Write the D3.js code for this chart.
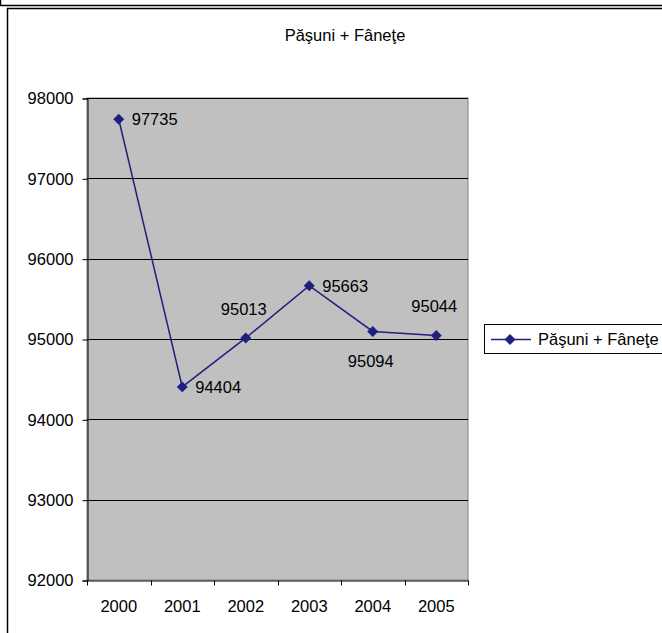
<!DOCTYPE html>
<html><head><meta charset="utf-8">
<script src="https://cdn.jsdelivr.net/npm/d3@7"></script>
<style>body{margin:0;background:#fff;} svg{display:block;font-family:"Liberation Sans",Arial,sans-serif;}</style>
</head><body>
<svg id="c" width="662" height="633"></svg>
<script>
const title = "Păşuni + Fâneţe";
const seriesName = "Păşuni + Fâneţe";
const years = ["2000","2001","2002","2003","2004","2005"];
const values = [97735, 94404, 95013, 95663, 95094, 95044];
const labelPos = ["right","right","above","right","below","above"];
const yTicks = [92000, 93000, 94000, 95000, 96000, 97000, 98000];

const svg = d3.select("#c");
svg.append("path").attr("d","M0.5,0 V5.5 H662").attr("fill","none").attr("stroke","#000").attr("stroke-width",1.5);
svg.append("path").attr("d","M7.5,640 V8.5 H662").attr("fill","none").attr("stroke","#000").attr("stroke-width",1.5);

svg.append("text").attr("x",345).attr("y",41).attr("text-anchor","middle")
  .attr("font-size",16.5).text(title);

const L=87, R=468, T=98, B=580;
const x = d3.scaleBand().domain(years).range([L,R]);
const y = d3.scaleLinear().domain([92000,98000]).range([B,T]);

svg.append("rect").attr("x",L).attr("y",T).attr("width",R-L).attr("height",B-T)
  .attr("fill","#c0c0c0").attr("stroke","#808080");

svg.append("g").selectAll("line").data(yTicks.slice(1)).join("line")
  .attr("x1",L).attr("x2",R).attr("y1",d=>Math.round(y(d))+0.5).attr("y2",d=>Math.round(y(d))+0.5)
  .attr("stroke","#000");

const ya = svg.append("g").attr("transform",`translate(${L+0.5},0.5)`)
  .call(d3.axisLeft(y).tickValues(yTicks).tickSize(5).tickPadding(9).tickFormat(d3.format("d")));
ya.selectAll("text").attr("font-size",16.5).attr("fill","#000").attr("font-family","Liberation Sans, Arial");
ya.selectAll("path,line").attr("stroke","#000");

const xa = svg.append("g").attr("transform",`translate(0,${B+0.5})`)
  .call(d3.axisBottom(x).tickSize(0).tickPadding(20));
xa.selectAll("text").attr("font-size",16.5).attr("fill","#000").attr("font-family","Liberation Sans, Arial");
xa.select("path").attr("stroke","#000");
xa.append("g").selectAll("line").data(d3.range(years.length+1)).join("line")
  .attr("x1",i=>Math.round(L+i*x.step())+0.5).attr("x2",i=>Math.round(L+i*x.step())+0.5)
  .attr("y1",0).attr("y2",5).attr("stroke","#000");

const col = "#1f1f80";
const cx = d => x(d)+x.bandwidth()/2;
svg.append("path").datum(values)
  .attr("d", d3.line().x((d,i)=>cx(years[i])).y(d=>y(d)))
  .attr("fill","none").attr("stroke",col).attr("stroke-width",1.5);

svg.append("g").selectAll("path").data(values).join("path")
  .attr("d", d3.symbol().type(d3.symbolSquare).size(60))
  .attr("transform",(d,i)=>`translate(${cx(years[i])},${y(d)}) rotate(45)`)
  .attr("fill",col);

svg.append("g").selectAll("text").data(values).join("text")
  .attr("font-size",16.5)
  .attr("x",(d,i)=>labelPos[i]==="right"? cx(years[i])+13 : cx(years[i])-2)
  .attr("y",(d,i)=>labelPos[i]==="right"? y(d)+6 : labelPos[i]==="above"? y(d)-23 : y(d)+36)
  .attr("text-anchor",(d,i)=>labelPos[i]==="right"?"start":"middle")
  .text(d=>d);

const lg = svg.append("g");
lg.append("rect").attr("x",484.5).attr("y",324.5).attr("width",200).attr("height",29)
  .attr("fill","#fff").attr("stroke","#000");
lg.append("line").attr("x1",491).attr("x2",531).attr("y1",339.5).attr("y2",339.5).attr("stroke",col).attr("stroke-width",1.5);
lg.append("path").attr("d", d3.symbol().type(d3.symbolSquare).size(60))
  .attr("transform","translate(510,339.5) rotate(45)").attr("fill",col);
lg.append("text").attr("x",538).attr("y",345).attr("font-size",16.5).text(seriesName);
</script>
</body></html>
